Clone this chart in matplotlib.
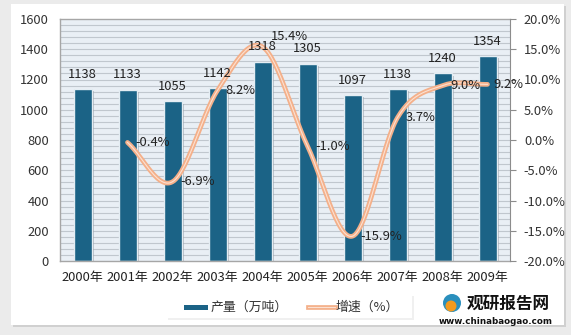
import numpy as np
import matplotlib
matplotlib.use("Agg")
import matplotlib.pyplot as plt
from matplotlib.patches import Rectangle
import matplotlib.patheffects as pe

plt.rcParams['font.family'] = ['Noto Sans CJK SC', 'DejaVu Sans']

years = ["2000年", "2001年", "2002年", "2003年", "2004年", "2005年", "2006年", "2007年", "2008年", "2009年"]
output = [1138, 1133, 1055, 1142, 1318, 1305, 1097, 1138, 1240, 1354]
growth_years_idx = [1, 2, 3, 4, 5, 6, 7, 8, 9]
growth = [-0.4, -6.9, 8.2, 15.4, -1.0, -15.9, 3.7, 9.0, 9.2]
growth_labels = ["-0.4%", "-6.9%", "8.2%", "15.4%", "-1.0%", "-15.9%", "3.7%", "9.0%", "9.2%"]

W, H = 571, 335
FS = 9.3
fig = plt.figure(figsize=(W / 100, H / 100), dpi=100)
fig.patch.set_facecolor('#ebebeb')

# chart frame (white card)
card = fig.add_axes([0, 0, 1, 1], zorder=-10)
card.set_xlim(0, W); card.set_ylim(H, 0); card.axis('off')
card.add_patch(Rectangle((13, 6), 553, 321, facecolor='#d0d0d0', edgecolor='none'))
card.add_patch(Rectangle((11, 4), 553, 321, facecolor='white', edgecolor='none'))
# legend box
card.add_patch(Rectangle((168, 296), 246, 24, facecolor='#f0f0f0', edgecolor='none', zorder=1))
card.add_patch(Rectangle((166, 294), 246, 24, facecolor='white', edgecolor='none', zorder=2))

# plot area
L, R, T, B = 60, 510, 19, 261
ax = fig.add_axes([L / W, 1 - B / H, (R - L) / W, (B - T) / H])
ax.set_facecolor('#e9eff5')
x = np.arange(len(years))
ax.set_xlim(-0.5, len(years) - 0.5)
ax.set_ylim(0, 1600)
for yv in np.arange(40, 1600, 40):
    ax.axhline(yv, color='#c0c7ce', lw=0.8, zorder=0)

ax.bar(x, output, width=0.4, color='#1b6386', edgecolor='#e4edf3', linewidth=1.0, zorder=2,
       path_effects=[pe.SimplePatchShadow(offset=(1.5, -1.5), shadow_rgbFace='#7f8a94', alpha=0.5), pe.Normal()])

ax.set_yticks(np.arange(0, 1601, 200))
ax.tick_params(axis='y', length=0, labelsize=FS, pad=8, colors='#333333')
ax.set_xticks(x)
ax.set_xticklabels(years)
ax.tick_params(axis='x', length=0, labelsize=FS, pad=7, colors='#222222')
for s in ['top', 'left', 'bottom']:
    ax.spines[s].set_color('#a6a6a6')
    ax.spines[s].set_linewidth(1.0)
ax.spines['right'].set_visible(False)

ax2 = ax.twinx()
ax2.set_ylim(-20, 20)
ax2.set_yticks(np.arange(-20, 20.1, 5))
ax2.set_yticklabels([f"{v:.1f}%" for v in np.arange(-20, 20.1, 5)])
ax2.tick_params(axis='y', length=4, width=0.8, color='#8c8c8c', labelsize=FS, pad=6, labelcolor='#333333')
for s in ['top', 'left', 'bottom']:
    ax2.spines[s].set_visible(False)
ax2.spines['right'].set_color('#8c8c8c')


def catmull(px, py, n=30):
    px = np.asarray(px, float); py = np.asarray(py, float)
    P = np.column_stack([px, py])
    P = np.vstack([P[0] - (P[1] - P[0]), P, P[-1] + (P[-1] - P[-2])])
    out = []
    for i in range(1, len(P) - 2):
        p0, p1, p2, p3 = P[i - 1], P[i], P[i + 1], P[i + 2]
        c1 = p1 + (p2 - p0) / 6.0
        c2 = p2 - (p3 - p1) / 6.0
        t = np.linspace(0, 1, n)[:, None]
        seg = (1 - t) ** 3 * p1 + 3 * (1 - t) ** 2 * t * c1 + 3 * (1 - t) * t ** 2 * c2 + t ** 3 * p2
        out.append(seg if i == 1 else seg[1:])
    return np.vstack(out)


sx = np.array(growth_years_idx, float)
sy = np.array(growth, float)
scale = (44.9 / 6.05)
curve = catmull(sx * scale, sy)
cx, cy = curve[:, 0] / scale, curve[:, 1]
ax2.plot(cx, cy, color='#f4b08a', lw=3.4, solid_capstyle='round', zorder=4)
ax2.plot(cx, cy, color='#fbe1d2', lw=0.8, zorder=5)

# bar value labels drawn on top of the line
for xi, v in zip(x, output):
    ax2.annotate(str(v), (xi, v), xycoords=ax.transData, xytext=(0, 6), textcoords='offset points',
                 ha='center', va='bottom', fontsize=FS, color='#222222', zorder=8)

for xi, g, lab in zip(growth_years_idx, growth, growth_labels):
    off = (6, 0)
    if lab == "15.4%":
        off = (6, 7.5)
    if lab == "9.2%":
        off = (4, 0)
    ax2.annotate(lab, (xi, g), xytext=off, textcoords='offset points', ha='left', va='center',
                 fontsize=FS, color='#222222', zorder=7)

leg = fig.add_axes([0, 0, 1, 1], zorder=5)
leg.set_xlim(0, W); leg.set_ylim(H, 0); leg.axis('off')
leg.add_patch(Rectangle((184, 305), 24, 4.5, facecolor='#1b6386', edgecolor='none'))
leg.text(211, 307, "产量（万吨）", fontsize=FS, va='center', ha='left', color='#333333')
leg.plot([308, 335], [307, 307], color='#f4b08a', lw=3.4)
leg.plot([308, 335], [307, 307], color='#fbe1d2', lw=0.8)
leg.text(336, 307, "增速（%）", fontsize=FS, va='center', ha='left', color='#333333')

# watermark logo
leg.add_patch(plt.Circle((452, 303), 9, facecolor='#2a8fbd', edgecolor='none'))
leg.add_patch(plt.Circle((451, 306), 5.5, facecolor='#f39a1e', edgecolor='none'))
leg.text(467, 304, "观研报告网", fontsize=12, fontweight='bold', va='center', ha='left', color='#111111')
leg.text(496, 322, "www.chinabaogao.com", fontsize=6.3, fontweight='bold', va='center', ha='center',
         color='#111111', family=['DejaVu Sans'])

fig.savefig("out.png", dpi=100)
